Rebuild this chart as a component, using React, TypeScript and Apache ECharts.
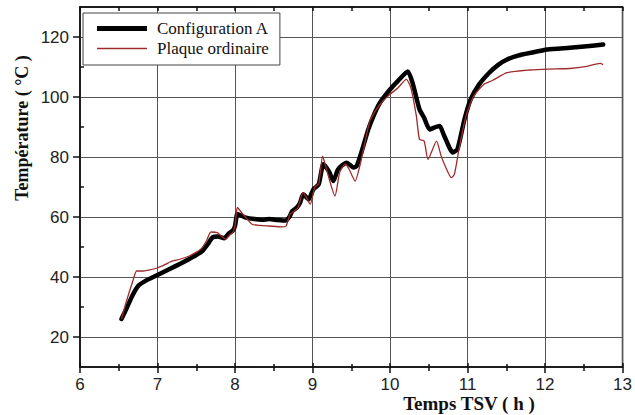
import React, { useEffect, useRef } from "react";
import * as echarts from "echarts";

const xTicks = [6, 7, 8, 9, 10, 11, 12, 13];
const yTicks = [20, 40, 60, 80, 100, 120];
const yMinorTicks = [30, 50, 70, 90, 110];

const seriesNames = ["Configuration A", "Plaque ordinaire"];

const timeA = [6.535, 6.6, 6.68, 6.75, 6.85, 6.98, 7.15, 7.3, 7.41, 7.5, 7.58, 7.65, 7.71, 7.78, 7.86, 7.92, 7.97, 8.0, 8.03, 8.08, 8.14, 8.25, 8.35, 8.44, 8.55, 8.65, 8.7, 8.74, 8.8, 8.84, 8.88, 8.95, 9.01, 9.08, 9.14, 9.21, 9.27, 9.33, 9.44, 9.53, 9.57, 9.63, 9.72, 9.8, 9.87, 10.0, 10.1, 10.23, 10.29, 10.38, 10.44, 10.51, 10.57, 10.64, 10.7, 10.81, 10.87, 10.96, 11.04, 11.15, 11.28, 11.4, 11.51, 11.65, 11.81, 12.03, 12.32, 12.54, 12.75];
const tempA = [26, 29.5, 34, 37, 38.8, 40.4, 42.6, 44.5, 46, 47.3, 48.7, 51, 53.2, 53.5, 52.9, 54.5, 55.4, 57, 61, 60.5, 59.8, 59.3, 59.1, 59.3, 59.0, 58.8, 60, 62, 63.2, 64.8, 67.6, 65.9, 69.2, 70.9, 77.6, 75.3, 72, 75.9, 78.1, 76.5, 77, 81.5, 89.2, 94.5, 98.1, 102.5, 105.3, 108.5, 104.8, 95.9, 93.1, 89.2, 89.8, 90.3, 87, 81.5, 82.6, 92.5, 99.2, 104.2, 108.1, 110.8, 112.5, 113.8, 114.7, 115.8, 116.4, 116.9, 117.5];

const timeB = [6.535, 6.6, 6.68, 6.73, 6.8, 6.9, 7.0, 7.11, 7.16, 7.3, 7.41, 7.56, 7.63, 7.69, 7.77, 7.83, 7.88, 7.93, 7.97, 8.0, 8.03, 8.07, 8.12, 8.22, 8.32, 8.44, 8.61, 8.66, 8.71, 8.74, 8.81, 8.88, 8.97, 9.03, 9.08, 9.13, 9.18, 9.29, 9.35, 9.42, 9.47, 9.55, 9.61, 9.67, 9.74, 9.87, 10.0, 10.1, 10.21, 10.27, 10.34, 10.38, 10.44, 10.49, 10.6, 10.66, 10.72, 10.79, 10.83, 10.89, 10.98, 11.08, 11.21, 11.32, 11.51, 11.81, 12.03, 12.32, 12.54, 12.71, 12.75];
const tempB = [26, 32, 38.5, 42, 42, 42.4, 43, 44.3, 45, 46, 47, 49.3, 52, 55, 54.8, 53.5, 52.6, 54, 54.8, 57, 63.2, 62, 60.4, 57.6, 57.2, 57, 56.7, 57, 61, 61.5, 63, 68.1, 64.3, 70, 71, 80.3, 75.9, 67, 74.8, 77.6, 76, 72, 77, 84, 92, 97.5, 100.9, 103, 105.9, 103, 93.6, 85.9, 85.3, 79.2, 85.3, 80.3, 76.5, 73.1, 74.2, 82.6, 93.6, 100.3, 104.2, 105.5, 108.1, 109, 109.3, 109.5, 110.2, 111.2, 110.8];

const pairs = (xs: number[], ys: number[]) => xs.map((x, i) => [x, ys[i]]);

export default function App() {
  const ref = useRef<HTMLDivElement>(null);
  useEffect(() => {
    if (!ref.current) return;
    const chart = echarts.init(ref.current, null, { renderer: "svg" });
    const serif = "'Liberation Serif', 'Times New Roman', serif";
    const sans = "'Liberation Sans', Arial, sans-serif";
    const baseX = {
      type: "value",
      min: xTicks[0],
      max: xTicks[xTicks.length - 1],
      interval: 1,
    };
    chart.setOption({
      animation: false,
      backgroundColor: "#ffffff",
      grid: {
        left: 80,
        right: 9,
        top: 7,
        bottom: 48,
        show: true,
        borderColor: "#111",
        borderWidth: 1.5,
        backgroundColor: "transparent",
      },
      legend: {
        orient: "vertical",
        left: 83,
        top: 13,
        padding: [7, 11, 8, 14],
        itemGap: 3,
        itemWidth: 50,
        itemHeight: 18,
        borderColor: "#444",
        borderWidth: 1,
        backgroundColor: "#ffffff",
        textStyle: { fontFamily: serif, fontSize: 17, color: "#111", padding: [0, 0, 0, 5] },
        data: [
          { name: seriesNames[0], icon: "path://M0,0h50v5h-50z", itemStyle: { color: "#000" } },
          { name: seriesNames[1], icon: "path://M0,0h50v1.4h-50z", itemStyle: { color: "#9e2a2a" } },
        ],
      },
      xAxis: [
        {
          ...baseX,
          position: "bottom",
          axisLine: { show: true, onZero: false, lineStyle: { color: "#111", width: 1.5 } },
          axisTick: { show: true, inside: false, length: 6, lineStyle: { color: "#111", width: 1.5 } },
          minorTick: { show: true, splitNumber: 2, length: 4, lineStyle: { color: "#111", width: 1.5 } },
          axisLabel: { fontFamily: sans, fontSize: 17, color: "#222", margin: 9 },
          splitLine: { show: true, lineStyle: { color: "#555", width: 1 } },
        },
        {
          ...baseX,
          position: "bottom",
          axisLine: { show: false, onZero: false },
          axisTick: { show: true, inside: true, length: 4, lineStyle: { color: "#111", width: 1.5 } },
          minorTick: { show: true, splitNumber: 2, length: 3, lineStyle: { color: "#111", width: 1.5 } },
          axisLabel: { show: false },
          splitLine: { show: false },
        },
        {
          ...baseX,
          position: "top",
          axisLine: { show: true, onZero: false, lineStyle: { color: "#111", width: 1.5 } },
          axisTick: { show: true, inside: true, length: 4, lineStyle: { color: "#111", width: 1.5 } },
          minorTick: { show: true, splitNumber: 2, length: 4, lineStyle: { color: "#111", width: 1.5 } },
          axisLabel: { show: false },
          splitLine: { show: false },
        },
      ],
      yAxis: [
        {
          type: "value",
          min: 10,
          max: 130,
          splitNumber: 6,
          position: "left",
          axisLine: { show: true, onZero: false, lineStyle: { color: "#111", width: 1.5 } },
          axisTick: { show: true, inside: false, length: 7, customValues: yTicks, lineStyle: { color: "#111", width: 1.5 } },
          axisLabel: { fontFamily: sans, fontSize: 17, color: "#222", margin: 11, customValues: yTicks },
          splitLine: { show: true, lineStyle: { color: "#555", width: 1 } },
        },
        {
          type: "value",
          min: 10,
          max: 130,
          position: "left",
          axisLine: { show: false, onZero: false },
          axisTick: { show: true, inside: true, length: 4, customValues: yMinorTicks, lineStyle: { color: "#111", width: 1.5 } },
          axisLabel: { show: false },
          splitLine: { show: false },
        },
      ],
      graphic: [
        {
          type: "text",
          x: 22,
          y: 128,
          rotation: Math.PI / 2,
          style: {
            text: "Température ( °C )",
            fontFamily: serif,
            fontWeight: "bold",
            fontSize: 18,
            fill: "#111",
            align: "center",
            verticalAlign: "middle",
          },
        },
        {
          type: "text",
          x: 469,
          y: 403,
          style: {
            text: "Temps TSV ( h )",
            fontFamily: serif,
            fontWeight: "bold",
            fontSize: 19,
            fill: "#111",
            align: "center",
            verticalAlign: "middle",
          },
        },
      ],
      series: [
        {
          name: seriesNames[0],
          type: "line",
          xAxisIndex: 0,
          yAxisIndex: 0,
          data: pairs(timeA, tempA),
          showSymbol: false,
          symbol: "none",
          smooth: 0.2,
          lineStyle: { color: "#000", width: 4.5, join: "round", cap: "round" },
          itemStyle: { color: "#000" },
          z: 3,
        },
        {
          name: seriesNames[1],
          type: "line",
          xAxisIndex: 0,
          yAxisIndex: 0,
          data: pairs(timeB, tempB),
          showSymbol: false,
          symbol: "none",
          smooth: 0.2,
          lineStyle: { color: "#9e2a2a", width: 1.3 },
          itemStyle: { color: "#9e2a2a" },
          z: 4,
        },
      ],
    });
    return () => chart.dispose();
  }, []);
  return (
    <div
      ref={ref}
      style={{ position: "fixed", left: 0, top: 0, width: 635, height: 415, background: "#fff" }}
    />
  );
}
